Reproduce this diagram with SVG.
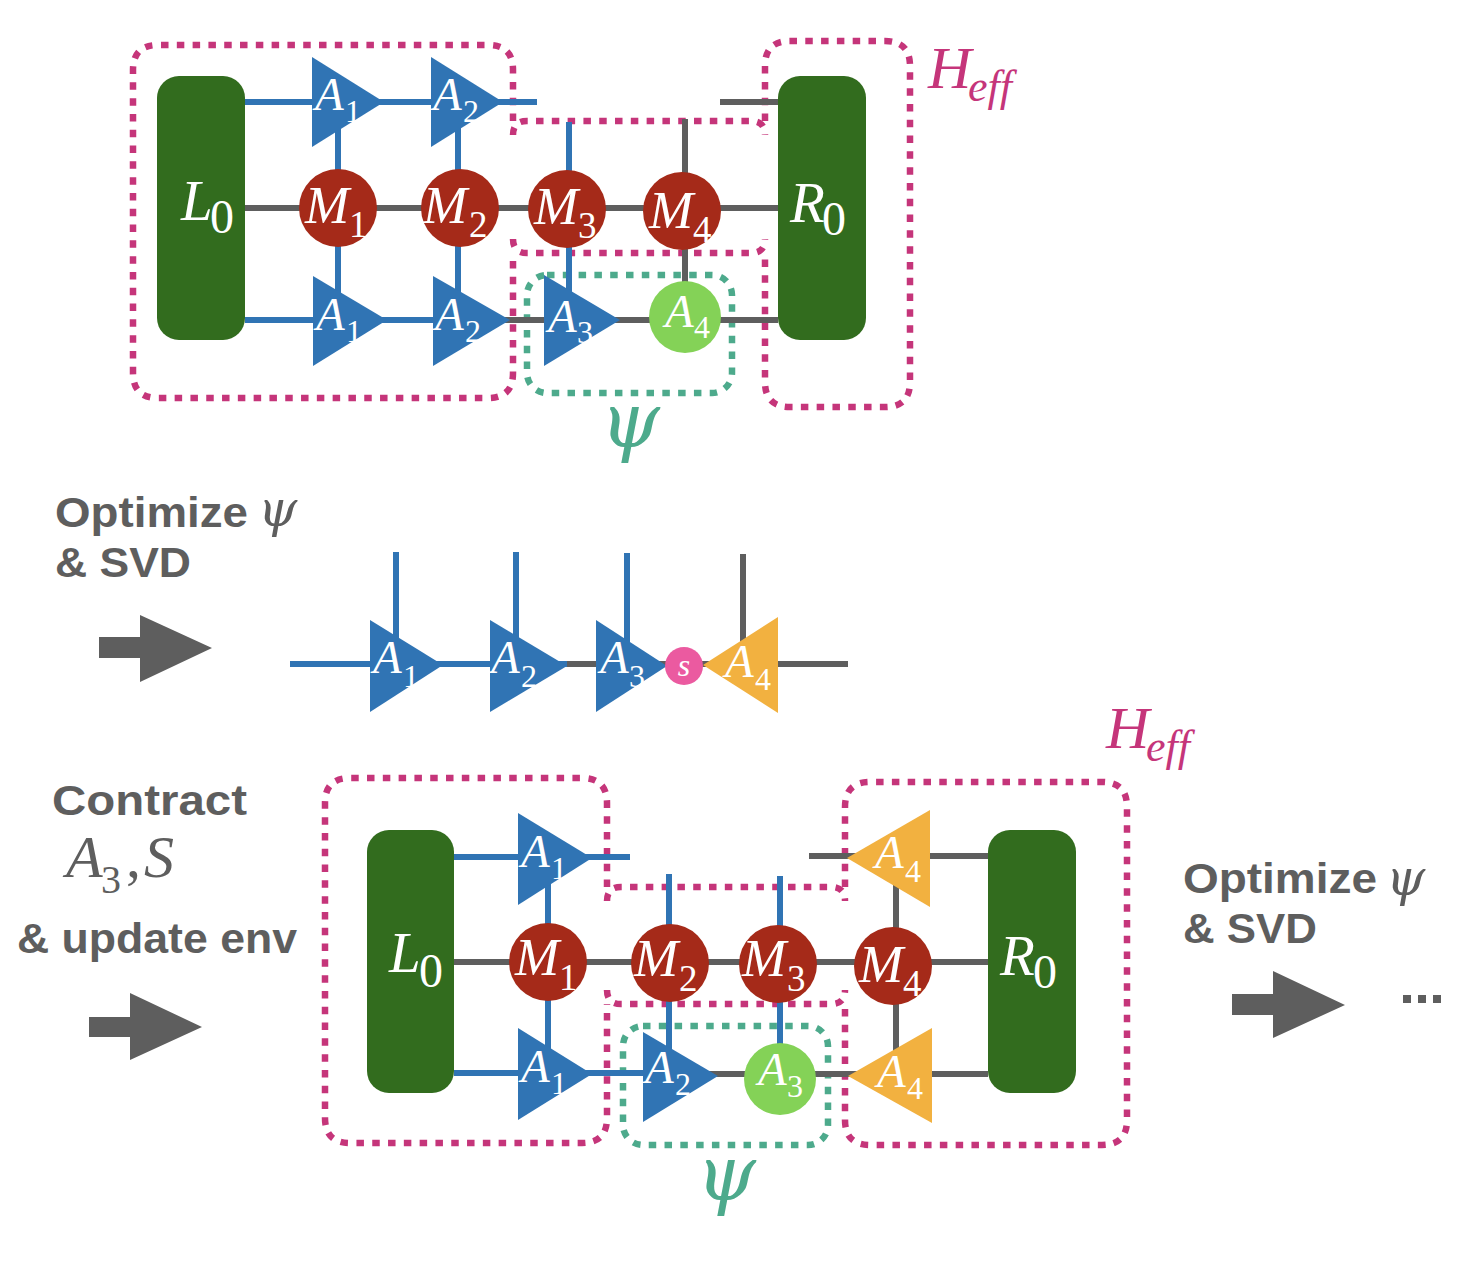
<svg xmlns="http://www.w3.org/2000/svg" width="1480" height="1268" viewBox="0 0 1480 1268">
<style>
.b{stroke:#3074b4;stroke-width:6;fill:none}
.g{stroke:#5e5e5e;stroke-width:6;fill:none}
.hb{stroke:#c5357a;stroke-width:6.5;fill:none;stroke-dasharray:7.5 8.3}
.pb{stroke:#4daa8c;stroke-width:6.5;fill:none;stroke-dasharray:7.5 8.3}
.tri{fill:#3074b4}
.otri{fill:#f2b140}
.env{fill:#326c1e}
.mpo{fill:#a52a19}
.psi{fill:#84d257}
.sv{fill:#eb5aa0}
.arr{fill:#5e5e5e}
.t{font-family:"Liberation Serif","Times New Roman",serif;font-style:italic;fill:#fff}
.sub{font-style:normal}
.ta{font-size:47px}
.ts{font-size:32px}
.tm{font-size:53px}
.tms{font-size:37px}
.te{font-size:57px}
.tes{font-size:48px}
.lab{font-family:"Liberation Sans",Arial,sans-serif;font-weight:bold;fill:#5e5e5e;font-size:43px}
.gm{font-family:"Liberation Serif","Times New Roman",serif;font-style:italic;fill:#5e5e5e}
.gpsi{font-family:"DejaVu Serif",serif;font-style:italic;fill:#5e5e5e;font-size:50px}
.heff{font-family:"Liberation Serif","Times New Roman",serif;font-style:italic;fill:#c5357a}
.psil{font-family:"DejaVu Serif",serif;font-style:italic;fill:#4daa8c;font-size:76px}
</style>

<!-- dotted region outlines -->
<g id="regions">
  <path class="hb" d="M513,121 V70 Q513,45 488,45 H158 Q133,45 133,70 V373 Q133,398 158,398 H488 Q513,398 513,373 V253"/>
  <path class="hb" d="M513,135 Q513,121 527,121 H751 Q765,121 765,135"/>
  <path class="hb" d="M513,239 Q513,253 527,253 H751 Q765,253 765,239"/>
  <path class="hb" d="M765,121 V66 Q765,41 790,41 H885 Q910,41 910,66 V382 Q910,407 885,407 H790 Q765,407 765,382 V253"/>
  <rect class="pb" x="527" y="275" width="205" height="118" rx="20"/>

  <path class="hb" d="M607,887 V803 Q607,778 582,778 H350 Q325,778 325,803 V1118 Q325,1143 350,1143 H582 Q607,1143 607,1118 V1004"/>
  <path class="hb" d="M607,901 Q607,887 621,887 H831 Q845,887 845,901"/>
  <path class="hb" d="M607,990 Q607,1004 621,1004 H831 Q845,1004 845,990"/>
  <path class="hb" d="M845,887 V807 Q845,782 870,782 H1102 Q1127,782 1127,807 V1120 Q1127,1145 1102,1145 H870 Q845,1145 845,1120 V1004"/>
  <rect class="pb" x="623" y="1026" width="205" height="119" rx="20"/>
</g>

<g id="connectors">
  <!-- top network -->
  <path class="b" d="M245,102 H537"/>
  <path class="g" d="M720,102 H778"/>
  <path class="g" d="M245,208 H778"/>
  <path class="b" d="M245,320 H505"/>
  <path class="g" d="M505,320 H778"/>
  <path class="b" d="M338,102 V320 M458,102 V320 M569,122 V300"/>
  <path class="g" d="M685,119 V290"/>
  <!-- middle chain -->
  <path class="b" d="M290,664 H567"/>
  <path class="g" d="M567,664 H848"/>
  <path class="b" d="M396,552 V664 M516,552 V664 M627,553 V664"/>
  <path class="g" d="M743,554 V664"/>
  <!-- bottom network -->
  <path class="b" d="M454,857 H630"/>
  <path class="g" d="M809,856 H988"/>
  <path class="g" d="M454,962 H988"/>
  <path class="b" d="M454,1073 H660"/>
  <path class="g" d="M700,1074 H988"/>
  <path class="b" d="M548,858 V1074 M669,874 V1076 M780,876 V1045"/>
  <path class="g" d="M896,858 V1076"/>
</g>

<!-- top network nodes -->
<g id="L0_top"><rect class="env" x="157" y="76" width="88" height="264" rx="22"/>
  <text class="t te" x="181" y="220">L<tspan class="sub tes" x="210" y="233">0</tspan></text></g>
<g id="R0_top"><rect class="env" x="778" y="76" width="88" height="264" rx="22"/>
  <text class="t te" x="790" y="222">R<tspan class="sub tes" x="822" y="235">0</tspan></text></g>
<g id="A1_top_up"><polygon class="tri" points="312,57 312,147 384,102"/>
  <text class="t ta" x="315" y="110">A<tspan class="sub ts" x="345" y="122">1</tspan></text></g>
<g id="A2_top_up"><polygon class="tri" points="431,57 431,147 503,102"/>
  <text class="t ta" x="433" y="110">A<tspan class="sub ts" x="463" y="122">2</tspan></text></g>
<g id="M1_top"><circle class="mpo" cx="338" cy="208" r="39"/>
  <text class="t tm" x="305" y="223">M<tspan class="sub tms" x="349" y="237">1</tspan></text></g>
<g id="M2_top"><circle class="mpo" cx="460" cy="208" r="39"/>
  <text class="t tm" x="423" y="223">M<tspan class="sub tms" x="469" y="237">2</tspan></text></g>
<g id="M3_top"><circle class="mpo" cx="567" cy="209" r="39"/>
  <text class="t tm" x="534" y="224">M<tspan class="sub tms" x="578" y="238">3</tspan></text></g>
<g id="M4_top"><circle class="mpo" cx="682" cy="211" r="39"/>
  <text class="t tm" x="649" y="228">M<tspan class="sub tms" x="693" y="242">4</tspan></text></g>
<g id="A1_top_dn"><polygon class="tri" points="313,276 313,366 387,320"/>
  <text class="t ta" x="316" y="330">A<tspan class="sub ts" x="346" y="342">1</tspan></text></g>
<g id="A2_top_dn"><polygon class="tri" points="433,276 433,366 510,320"/>
  <text class="t ta" x="435" y="330">A<tspan class="sub ts" x="465" y="342">2</tspan></text></g>
<g id="A3_top"><polygon class="tri" points="544,275 544,366 620,320"/>
  <text class="t ta" x="548" y="332">A<tspan class="sub ts" x="577" y="343">3</tspan></text></g>
<g id="A4_top"><circle class="psi" cx="685" cy="317" r="36"/>
  <text class="t ta" x="665" y="327">A<tspan class="sub ts" x="694" y="338">4</tspan></text></g>
<g id="Heff_top"><text class="heff" x="928" y="88" font-size="60">H</text><text class="heff" x="968" y="101" font-size="44">eff</text></g>
<g id="psi_top"><text class="psil" x="630" y="447" text-anchor="middle">ψ</text></g>

<!-- middle chain -->
<g id="label_opt1">
  <text class="lab" x="55" y="527" textLength="193" lengthAdjust="spacingAndGlyphs">Optimize</text>
  <text class="gpsi" x="258" y="526">ψ</text>
  <text class="lab" x="55" y="577" textLength="136" lengthAdjust="spacingAndGlyphs">&amp; SVD</text>
</g>
<g id="arrow1"><polygon class="arr" points="99,637 140,637 140,615 212,648 140,682 140,658 99,658"/></g>
<g id="A1_mid"><polygon class="tri" points="370,620 370,712 443,665"/>
  <text class="t ta" x="373" y="673">A<tspan class="sub ts" x="403" y="687">1</tspan></text></g>
<g id="A2_mid"><polygon class="tri" points="490,620 490,712 567,666"/>
  <text class="t ta" x="491" y="673">A<tspan class="sub ts" x="521" y="687">2</tspan></text></g>
<g id="A3_mid"><polygon class="tri" points="596,620 596,712 667,666"/>
  <text class="t ta" x="600" y="673">A<tspan class="sub ts" x="629" y="687">3</tspan></text></g>
<g id="S_mid"><circle class="sv" cx="684" cy="666" r="19"/>
  <text class="t" x="684" y="676" font-size="32" text-anchor="middle">s</text></g>
<g id="A4_mid"><polygon class="otri" points="778,617 778,713 703,665"/>
  <text class="t ta" x="725" y="677">A<tspan class="sub ts" x="755" y="690">4</tspan></text></g>

<!-- bottom network -->
<g id="label_contract">
  <text class="lab" x="52" y="815" textLength="195" lengthAdjust="spacingAndGlyphs">Contract</text>
  <text class="gm" font-size="60"><tspan x="66" y="877">A</tspan><tspan class="sub" font-size="40" x="101" y="893">3</tspan><tspan class="sub" x="126" y="877">,</tspan><tspan x="144" y="877">S</tspan></text>
  <text class="lab" x="17" y="953" textLength="280" lengthAdjust="spacingAndGlyphs">&amp; update env</text>
</g>
<g id="arrow2"><polygon class="arr" points="89,1017 130,1017 130,993 202,1027 130,1060 130,1037 89,1037"/></g>
<g id="L0_bot"><rect class="env" x="367" y="830" width="87" height="263" rx="22"/>
  <text class="t te" x="389" y="972">L<tspan class="sub tes" x="419" y="987">0</tspan></text></g>
<g id="R0_bot"><rect class="env" x="988" y="830" width="88" height="263" rx="22"/>
  <text class="t te" x="1000" y="975">R<tspan class="sub tes" x="1033" y="988">0</tspan></text></g>
<g id="A1_bot_up"><polygon class="tri" points="518,813 518,905 592,858"/>
  <text class="t ta" x="521" y="867">A<tspan class="sub ts" x="551" y="879">1</tspan></text></g>
<g id="A1_bot_dn"><polygon class="tri" points="518,1028 518,1120 592,1074"/>
  <text class="t ta" x="521" y="1082">A<tspan class="sub ts" x="551" y="1094">1</tspan></text></g>
<g id="M1_bot"><circle class="mpo" cx="548" cy="962" r="39"/>
  <text class="t tm" x="515" y="975">M<tspan class="sub tms" x="559" y="990">1</tspan></text></g>
<g id="M2_bot"><circle class="mpo" cx="670" cy="963" r="39"/>
  <text class="t tm" x="634" y="976">M<tspan class="sub tms" x="679" y="991">2</tspan></text></g>
<g id="M3_bot"><circle class="mpo" cx="778" cy="964" r="39"/>
  <text class="t tm" x="742" y="976">M<tspan class="sub tms" x="787" y="991">3</tspan></text></g>
<g id="M4_bot"><circle class="mpo" cx="893" cy="966" r="39"/>
  <text class="t tm" x="859" y="982">M<tspan class="sub tms" x="903" y="996">4</tspan></text></g>
<g id="A2_bot"><polygon class="tri" points="643,1032 643,1122 718,1076"/>
  <text class="t ta" x="645" y="1083">A<tspan class="sub ts" x="675" y="1095">2</tspan></text></g>
<g id="A3_bot"><circle class="psi" cx="780" cy="1079" r="36"/>
  <text class="t ta" x="758" y="1085">A<tspan class="sub ts" x="787" y="1097">3</tspan></text></g>
<g id="A4_bot_up"><polygon class="otri" points="930,810 930,907 847,858"/>
  <text class="t ta" x="875" y="868">A<tspan class="sub ts" x="905" y="882">4</tspan></text></g>
<g id="A4_bot_dn"><polygon class="otri" points="932,1028 932,1123 848,1076"/>
  <text class="t ta" x="877" y="1087">A<tspan class="sub ts" x="907" y="1099">4</tspan></text></g>
<g id="Heff_bot"><text class="heff" x="1106" y="748" font-size="60">H</text><text class="heff" x="1146" y="761" font-size="44">eff</text></g>
<g id="psi_bot"><text class="psil" x="726" y="1200" text-anchor="middle">ψ</text></g>

<g id="label_opt2">
  <text class="lab" x="1183" y="893" textLength="194" lengthAdjust="spacingAndGlyphs">Optimize</text>
  <text class="gpsi" x="1386" y="895">ψ</text>
  <text class="lab" x="1183" y="943" textLength="134" lengthAdjust="spacingAndGlyphs">&amp; SVD</text>
</g>
<g id="arrow3"><polygon class="arr" points="1232,994 1273,994 1273,971 1345,1005 1273,1038 1273,1015 1232,1015"/></g>
<g id="ellipsis"><rect class="arr" x="1403" y="995" width="8" height="8"/><rect class="arr" x="1418" y="995" width="8" height="8"/><rect class="arr" x="1433" y="995" width="8" height="8"/></g>
</svg>
